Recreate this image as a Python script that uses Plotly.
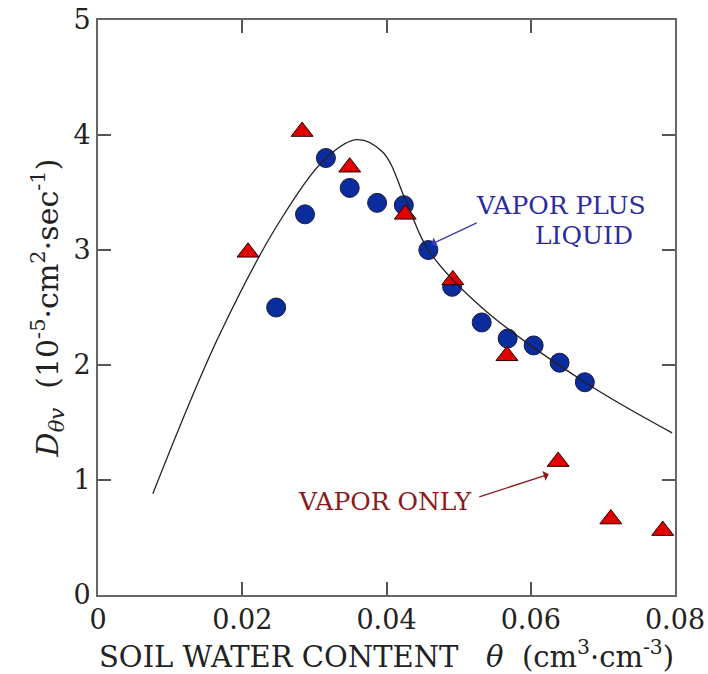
import plotly.graph_objects as go

# Vapor plus liquid (blue circles)
vl_theta = [0.0247, 0.0287, 0.0316, 0.0349, 0.0387, 0.0424, 0.0458, 0.0491, 0.0532, 0.0568, 0.0604, 0.0640, 0.0675]
vl_D = [2.50, 3.31, 3.80, 3.54, 3.41, 3.39, 3.00, 2.68, 2.37, 2.23, 2.17, 2.02, 1.85]

# Vapor only (red triangles)
vo_theta = [0.0208, 0.0283, 0.0349, 0.0426, 0.0492, 0.0567, 0.0638, 0.0711, 0.0783]
vo_D = [2.98, 4.03, 3.72, 3.31, 2.74, 2.08, 1.16, 0.66, 0.56]

# Fitted curve
fit_theta = [0.0076, 0.0166, 0.0252, 0.0318, 0.0359, 0.0395, 0.0428, 0.0458, 0.0532, 0.0675, 0.0796]
fit_D = [0.88, 2.23, 3.25, 3.81, 3.96, 3.85, 3.41, 3.00, 2.50, 1.85, 1.41]

x_ticks = [0, 0.02, 0.04, 0.06, 0.08]
x_ticktext = ["0", "0.02", "0.04", "0.06", "0.08"]
y_ticks = [0, 1, 2, 3, 4, 5]

FONT = "DejaVu Serif"
BLUE_TXT = "#2b2b9e"
RED_TXT = "#8b1a1a"

fig = go.Figure()
fig.add_trace(go.Scatter(x=vl_theta, y=vl_D, mode="markers",
                         marker=dict(symbol="circle", size=19, color="#0a2c9c",
                                     line=dict(color="#1a1a40", width=1)),
                         showlegend=False))
fig.add_trace(go.Scatter(x=vo_theta, y=vo_D, mode="markers",
                         marker=dict(symbol="triangle-up", size=19, color="#e10000",
                                     line=dict(color="#2a0000", width=1)),
                         showlegend=False))
fig.add_trace(go.Scatter(x=fit_theta, y=fit_D, mode="lines",
                         line=dict(color="#222222", width=1.3, shape="spline", smoothing=1.0),
                         showlegend=False))

axis_common = dict(showgrid=False, zeroline=False, showline=True, linecolor="#666666",
                   linewidth=2, ticks="inside", ticklen=13, tickwidth=1.5, tickcolor="#555555",
                   mirror="ticks", automargin=False,
                   tickfont=dict(family=FONT, size=27, color="#222222"))

fig.update_xaxes(range=[0, 0.08], tickvals=x_ticks, ticktext=x_ticktext,
                 title=dict(text="SOIL WATER CONTENT\u00a0\u00a0\u00a0<i>θ</i>\u00a0\u00a0(cm<sup>3</sup>·cm<sup>-3</sup>)",
                            font=dict(family=FONT, size=29, color="#222222"), standoff=1),
                 **axis_common)
fig.update_yaxes(range=[0, 5], tickvals=y_ticks,
                 title=dict(text="<i>D</i><sub><i>θv</i></sub>\u00a0\u00a0(10<sup>-5</sup>·cm<sup>2</sup>·sec<sup>-1</sup>)",
                            font=dict(family=FONT, size=30, color="#222222"), standoff=6),
                 **axis_common)

fig.add_annotation(x=0.0462, y=3.05, ax=47, ay=-22, text="", showarrow=True,
                   arrowhead=1, arrowsize=1.3, arrowwidth=1.3, arrowcolor="#3a3ab8", standoff=0)
fig.add_annotation(x=0.0625, y=1.05, ax=-71, ay=23, text="", showarrow=True,
                   arrowhead=1, arrowsize=1.3, arrowwidth=1.3, arrowcolor=RED_TXT, standoff=0)

fig.add_annotation(x=0.0642, y=3.39, text="VAPOR PLUS", showarrow=False,
                   font=dict(family=FONT, size=25, color=BLUE_TXT))
fig.add_annotation(x=0.0674, y=3.13, text="LIQUID", showarrow=False,
                   font=dict(family=FONT, size=25, color=BLUE_TXT))
fig.add_annotation(x=0.0398, y=0.81, text="VAPOR ONLY", showarrow=False,
                   font=dict(family=FONT, size=25, color=RED_TXT))

fig.update_layout(width=708, height=674, paper_bgcolor="white", plot_bgcolor="white",
                  margin=dict(l=98, r=33, t=20, b=79))

fig.write_html("out.html")
